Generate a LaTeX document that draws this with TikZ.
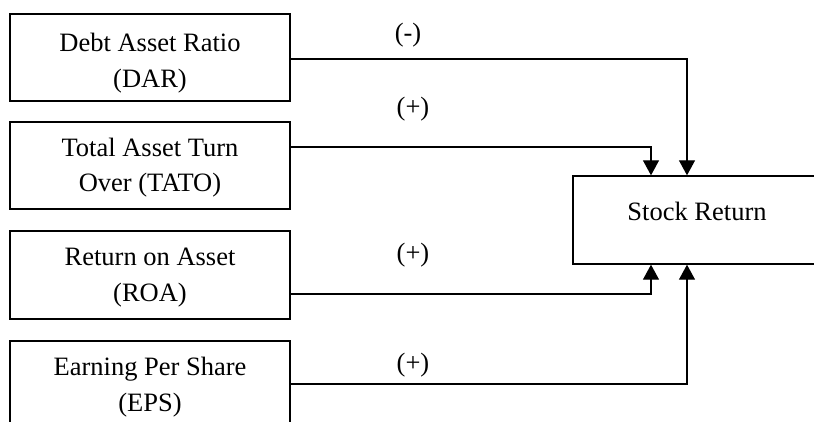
\documentclass[tikz,border=0pt]{standalone}
\usepackage{fontspec}
\setmainfont{Liberation Serif}
\usetikzlibrary{arrows.meta}
\tikzset{
  varbox/.style={draw, line width=1.4pt, minimum width=280pt, inner sep=0pt},
  boxtext/.style={align=center, inner sep=0pt, font=\fontsize{26.5}{35.5}\selectfont},
  conn/.style={line width=1.3pt, -{Triangle[width=16pt,length=15pt]}},
  sign/.style={font=\fontsize{26.5}{30}\selectfont, inner sep=0pt},
}
\begin{document}
\begin{tikzpicture}[x=1pt, y=-1pt]
  \clip (0,0) rectangle (814,421);
  \useasboundingbox (0,0) rectangle (814,421);

  % independent variables
  \node[varbox, minimum height=87pt] (dar)  at (150,57.5)  {};
  \node[varbox, minimum height=87pt] (tato) at (150,165.5) {};
  \node[varbox, minimum height=88pt] (roa)  at (150,275)   {};
  \node[varbox, minimum height=88pt] (eps)  at (150,385)   {};
  \node[boxtext] (dart)  at (150,63)    {Debt Asset Ratio\\(DAR)};
  \node[boxtext] (tatot) at (150,167.5) {Total Asset Turn\\Over (TATO)};
  \node[boxtext] (roat)  at (150,277.5) {Return on Asset\\(ROA)};
  \node[boxtext] (epst)  at (150,387)   {Earning Per Share\\(EPS)};

  % dependent variable
  \node[draw, line width=1.4pt, minimum width=250pt, minimum height=88pt, inner sep=0pt]
    (sr) at (698,220) {};
  \node[boxtext] (srt) at (697,211) {Stock Return};

  % connectors
  \draw[conn] (dar.east  |- 0,59)  -| (sr.north -| 687,0);
  \draw[conn] (tato.east |- 0,147) -| (sr.north -| 651,0);
  \draw[conn] (roa.east  |- 0,294) -| (sr.south -| 651,0);
  \draw[conn] (eps.east  |- 0,384) -| (sr.south -| 687,0);

  % signs of the effects
  \node[sign] (s1) at (408,35)    {(-)};
  \node[sign] (s2) at (413,109.5) {(+)};
  \node[sign] (s3) at (413,255)   {(+)};
  \node[sign] (s4) at (413,365)   {(+)};
\end{tikzpicture}
\end{document}
